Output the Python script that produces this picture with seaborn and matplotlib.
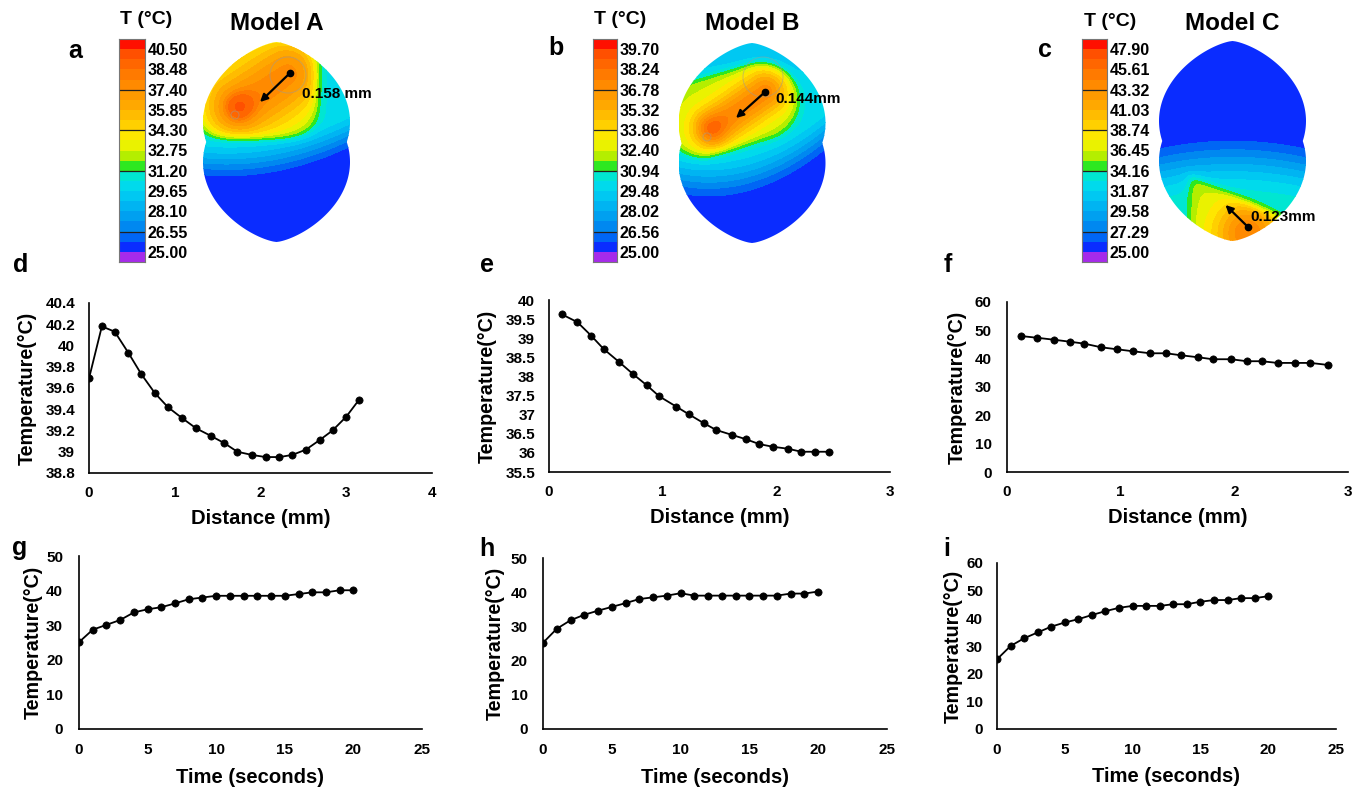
import numpy as np
import seaborn as sns
import matplotlib.pyplot as plt
from matplotlib.colors import ListedColormap, BoundaryNorm
from matplotlib.patches import Polygon, Circle
from matplotlib.ticker import FuncFormatter

# ---- data ----
# colour legends (bottom -> top)
legend_a = [25.00, 26.55, 28.10, 29.65, 31.20, 32.75, 34.30, 35.85, 37.40, 38.48, 40.50]
legend_b = [25.00, 26.56, 28.02, 29.48, 30.94, 32.40, 33.86, 35.32, 36.78, 38.24, 39.70]
legend_c = [25.00, 27.29, 29.58, 31.87, 34.16, 36.45, 38.74, 41.03, 43.32, 45.61, 47.90]

model_names = ["Model A", "Model B", "Model C"]
gap_labels = ["0.158 mm", "0.144mm", "0.123mm"]

# temperature vs distance (d, e, f)
dist_a = [0, 0.15, 0.30, 0.46, 0.61, 0.77, 0.92, 1.08, 1.25, 1.42, 1.58,
          1.73, 1.90, 2.06, 2.22, 2.37, 2.53, 2.69, 2.84, 3.00, 3.15]
temp_a = [39.69, 40.18, 40.13, 39.93, 39.73, 39.55, 39.42, 39.32, 39.22, 39.15, 39.08,
          39.00, 38.97, 38.95, 38.95, 38.97, 39.02, 39.11, 39.20, 39.33, 39.49]
dist_b = [0.11, 0.25, 0.37, 0.48, 0.62, 0.74, 0.86, 0.97, 1.12, 1.23,
          1.36, 1.47, 1.61, 1.73, 1.85, 1.97, 2.10, 2.22, 2.34, 2.46]
temp_b = [39.63, 39.42, 39.07, 38.72, 38.37, 38.06, 37.77, 37.48, 37.21, 37.01,
          36.78, 36.60, 36.47, 36.36, 36.23, 36.16, 36.11, 36.03, 36.03, 36.03]
dist_c = [0.12, 0.26, 0.41, 0.55, 0.68, 0.83, 0.97, 1.11, 1.26, 1.40,
          1.53, 1.68, 1.81, 1.97, 2.11, 2.24, 2.38, 2.53, 2.67, 2.82]
temp_c = [48.0, 47.4, 46.7, 46.0, 45.3, 44.0, 43.3, 42.6, 41.9, 41.9,
          41.2, 40.5, 39.8, 39.8, 39.1, 39.1, 38.5, 38.5, 38.5, 37.8]

# temperature vs time (g, h, i)
time_s = [0, 1, 2, 3, 4, 5, 6, 7, 8, 9, 10, 11, 12, 13, 14, 15, 16, 17, 18, 19, 20]
heat_a = [25.1, 28.7, 30.1, 31.5, 33.7, 34.6, 35.2, 36.3, 37.5, 38.0, 38.5,
          38.5, 38.5, 38.5, 38.5, 38.5, 39.0, 39.5, 39.5, 40.1, 40.1]
heat_b = [25.2, 29.3, 31.8, 33.4, 34.6, 35.7, 36.8, 38.0, 38.5, 39.0, 39.7,
          39.0, 39.0, 39.0, 39.0, 39.0, 39.0, 39.0, 39.6, 39.6, 40.2]
heat_c = [25.2, 30.0, 32.8, 34.9, 37.0, 38.5, 39.7, 41.2, 42.6, 43.8, 44.5,
          44.5, 44.5, 45.1, 45.1, 46.0, 46.6, 46.6, 47.3, 47.3, 48.0]

# legend band colours, bottom (below min) -> top (above max)
BAND_COLORS = ["#A62BEA", "#0A2CFF", "#0066F5", "#0088F0", "#00A0F0", "#00B4F2",
               "#00C8F2", "#00DAEC", "#00E6D2", "#2EE820", "#B4EE00", "#EAF200",
               "#FFE600", "#FFD000", "#FFBC00", "#FFA800", "#FF9A00", "#FF8A00",
               "#FF7A00", "#FF6600", "#FF5000", "#FF1000"]

W, H = 1364, 790

sns.set_theme(style="white")
plt.rcParams["font.family"] = ["Liberation Sans", "DejaVu Sans"]
plt.rcParams["font.weight"] = "bold"
plt.rcParams["axes.labelweight"] = "bold"
for key in ["text.color", "axes.labelcolor", "xtick.color", "ytick.color", "axes.edgecolor"]:
    plt.rcParams[key] = "black"

fig = plt.figure(figsize=(W / 100, H / 100), dpi=100)


def px_axes(left, top, right, bottom):
    return fig.add_axes([left / W, 1 - bottom / H, (right - left) / W, (bottom - top) / H])


# ---- helpers for the simulated thermal maps ----
def smoothstep(e0, e1, v):
    t = np.clip((v - e0) / (e1 - e0), 0, 1)
    return t * t * (3 - 2 * t)


def soft(z):
    return 0.5 * (1 + np.tanh(z / 2))


def seg_dist(X, Y, p, q):
    dx, dy = q[0] - p[0], q[1] - p[1]
    t = np.clip(((X - p[0]) * dx + (Y - p[1]) * dy) / (dx * dx + dy * dy), 0, 1)
    return np.hypot(X - (p[0] + t * dx), Y - (p[1] + t * dy))


def lobe(y, y0, h=0.8, w=0.735, k=0.7):
    t = np.clip(np.abs(y - y0) / h, 0, 1)
    return w * (1 - t ** 2) ** k


def outline():
    ys = np.linspace(-1, 1, 500)
    hw = np.maximum(lobe(ys, 0.2), lobe(ys, -0.2))
    return np.vstack([np.column_stack([hw, ys]), np.column_stack([-hw[::-1], ys[::-1]])])


gx, gy = np.meshgrid(np.linspace(-0.76, 0.76, 400), np.linspace(-1.02, 1.02, 540))


def field_a(X, Y):
    yeff = Y - 0.193 * X - 0.194 * X ** 2
    base = 25 + 5.3 * smoothstep(-0.42, 0.12, yeff)
    q = ((X + 0.2) / 0.6) ** 4 + ((Y - 0.55) / 0.5) ** 4
    hot = soft((1 - q) / 0.25)
    p1, p2 = (-0.37, 0.35), (0.12, 0.68)
    inner = (32.6 + 5.3 * np.exp(-(seg_dist(X, Y, p1, p2) / 0.38) ** 2)
             + 2.0 * np.exp(-(np.hypot(X - p1[0], Y - p1[1]) / 0.15) ** 2))
    return base + hot * (inner - base)


def field_b(X, Y):
    yeff = Y - 0.3 * X - 0.347 * X ** 2
    base = 25 + 5.0 * smoothstep(-0.62, 0.0, yeff) - 1.2 * smoothstep(0.45, 1.0, Y)
    hot = soft((0.38 - seg_dist(X, Y, (-0.5, 0.25), (0.08, 0.42))) / 0.03)
    c1, d1 = (-0.39, 0.15), (0.13, 0.51)
    inner = (32.2 + 5.0 * np.exp(-(seg_dist(X, Y, c1, d1) / 0.22) ** 2)
             + 1.5 * np.exp(-(np.hypot(X - c1[0], Y - c1[1]) / 0.14) ** 2))
    return base + hot * (inner - base)


def field_c(X, Y):
    yeff = Y + 0.15 * X ** 2
    base = 25 + 8.4 * smoothstep(0.18, -0.6, yeff)
    edge = -0.39 - 0.45 * (X + 0.35)
    hot = soft((X + 0.42) / 0.03) * soft((edge - Y) / 0.03)
    inner = 36.2 + 8.2 * np.exp(-(np.hypot(X - 0.15, Y + 0.92) / 0.33) ** 2)
    return base + hot * (inner - base)


def sub_levels(labels):
    lv = [labels[0] - 0.5]
    for lo, hi in zip(labels[:-1], labels[1:]):
        lv += [(lo + hi) / 2, hi]
    return [-1e3] + lv + [1e3]


def draw_colorbar(rect, labels, title_xy):
    cax = px_axes(*rect)
    cmap = ListedColormap(BAND_COLORS)
    norm = BoundaryNorm(np.arange(23) - 0.5, 22)
    cax.imshow(np.arange(22)[:, None], cmap=cmap, norm=norm, origin="lower",
               aspect="auto", extent=(0, 1, 0, 22), interpolation="nearest")
    for b in (3, 9, 13, 17):
        cax.axhline(b, color="#222222", lw=0.9)
    cax.set_xticks([])
    cax.yaxis.tick_right()
    cax.set_yticks(range(1, 22, 2))
    cax.set_yticklabels([f"{v:.2f}" for v in labels])
    cax.tick_params(axis="y", length=0, pad=2, labelsize=11.5)
    for s in cax.spines.values():
        s.set_color("#777777")
        s.set_linewidth(0.8)
    fig.text(title_xy[0] / W, 1 - title_xy[1] / H, "T (°C)", fontsize=14,
             ha="center", va="center")


def draw_map(center, field, labels, name, dot, head, gap_text, text_xy, rings):
    cx, cy = center
    ax = px_axes(cx - 73.5, cy - 100, cx + 73.5, cy + 100)
    ax.set_xlim(-0.735, 0.735)
    ax.set_ylim(-1, 1)
    ax.axis("off")
    T = field(gx, gy)
    cs = ax.contourf(gx, gy, T, levels=sub_levels(labels), colors=BAND_COLORS)
    clip = Polygon(outline(), closed=True, transform=ax.transData)
    cs.set_clip_path(clip)
    for (rx, ry, rr) in rings:
        ring = Circle((rx, ry), rr, fill=False, ec="#9a9a9a", lw=0.8, alpha=0.45)
        ax.add_patch(ring)
        ring.set_clip_path(clip)
    ax.annotate("", xy=head, xytext=dot,
                arrowprops=dict(arrowstyle="-|>", color="black", lw=1.6,
                                mutation_scale=11, shrinkA=0, shrinkB=0))
    ax.plot([dot[0]], [dot[1]], "o", color="black", ms=4.5, clip_on=False)
    ax.text(text_xy[0], text_xy[1], gap_text, fontsize=11, va="center", ha="left",
            clip_on=False)
    fig.text(cx / W, 1 - 24 / H, name, fontsize=17.5, ha="center", va="center")


# ---- top row: legends and thermal maps ----
draw_colorbar((119, 39, 145, 262), legend_a, (146, 20))
draw_colorbar((593, 39, 617, 262), legend_b, (620, 20))
draw_colorbar((1082, 39, 1107, 262), legend_c, (1110, 22))

draw_map((276.5, 142), field_a, legend_a, model_names[0], (0.135, 0.69), (-0.165, 0.40),
         gap_labels[0], (0.255, 0.48), [(0.115, 0.67, 0.18), (-0.415, 0.27, 0.04)])
draw_map((752, 143), field_b, legend_b, model_names[1], (0.13, 0.51), (-0.16, 0.25),
         gap_labels[1], (0.23, 0.44), [(0.11, 0.66, 0.2), (-0.45, 0.06, 0.04)])
draw_map((1232.5, 141), field_c, legend_c, model_names[2], (0.155, -0.86), (-0.07, -0.64),
         gap_labels[2], (0.175, -0.76), [])


# ---- line panels ----
def line_panel(rect, x, y, xticks, yticks, xlabel, ylab_x, xlab_y, ypad, xpad):
    ax = px_axes(*rect)
    sns.lineplot(x=x, y=y, ax=ax, color="black", marker="o", markersize=5.2,
                 markeredgecolor="black", markeredgewidth=0.5, linewidth=1.3)
    ax.set_xlim(xticks[0], xticks[-1])
    ax.set_ylim(yticks[0], yticks[-1])
    ax.set_xticks(xticks)
    ax.set_yticks(yticks)
    ax.xaxis.set_major_formatter(FuncFormatter(lambda v, p: f"{v:g}"))
    ax.yaxis.set_major_formatter(FuncFormatter(lambda v, p: f"{round(v, 1):g}"))
    ax.tick_params(axis="both", length=0, labelsize=11)
    ax.tick_params(axis="y", pad=ypad)
    ax.tick_params(axis="x", pad=xpad)
    for s in ["top", "right"]:
        ax.spines[s].set_visible(False)
    for s in ["left", "bottom"]:
        ax.spines[s].set_linewidth(1.2)
        ax.spines[s].set_color("black")
    ax.set_xlabel(xlabel, fontsize=14.6, va="center")
    ax.set_ylabel("Temperature(°C)", fontsize=14.2, va="center")
    ax.xaxis.set_label_coords(0.5, xlab_y)
    ax.yaxis.set_label_coords(ylab_x, 0.5)
    return ax


line_panel((89, 303, 432, 473), dist_a, temp_a, [0, 1, 2, 3, 4],
           list(np.round(np.arange(38.8, 40.41, 0.2), 1)), "Distance (mm)", -0.181, -0.265, 10, 9.5)
line_panel((549, 300, 890, 472), dist_b, temp_b, [0, 1, 2, 3],
           list(np.arange(35.5, 40.01, 0.5)), "Distance (mm)", -0.182, -0.262, 10, 9.5)
line_panel((1007, 302, 1348, 472), dist_c, temp_c, [0, 1, 2, 3],
           list(range(0, 61, 10)), "Distance (mm)", -0.147, -0.265, 11, 9.5)
line_panel((79, 556, 422, 729), time_s, heat_a, [0, 5, 10, 15, 20, 25],
           list(range(0, 51, 10)), "Time (seconds)", -0.134, -0.283, 11.5, 10)
line_panel((543, 558, 887, 729), time_s, heat_b, [0, 5, 10, 15, 20, 25],
           list(range(0, 51, 10)), "Time (seconds)", -0.14, -0.281, 11, 10)
line_panel((997, 563, 1336, 729), time_s, heat_c, [0, 5, 10, 15, 20, 25],
           list(range(0, 61, 10)), "Time (seconds)", -0.13, -0.289, 10, 10)

# panel letters
for letter, (lx, ly) in zip("abcdefghi", [(75, 51), (556, 48), (1045, 50),
                                          (21, 265), (487, 265), (948, 265),
                                          (20, 548), (487, 549), (947, 549)]):
    fig.text(lx / W, 1 - ly / H, letter, fontsize=18, ha="center", va="center")

fig.savefig("out.png", dpi=100)
